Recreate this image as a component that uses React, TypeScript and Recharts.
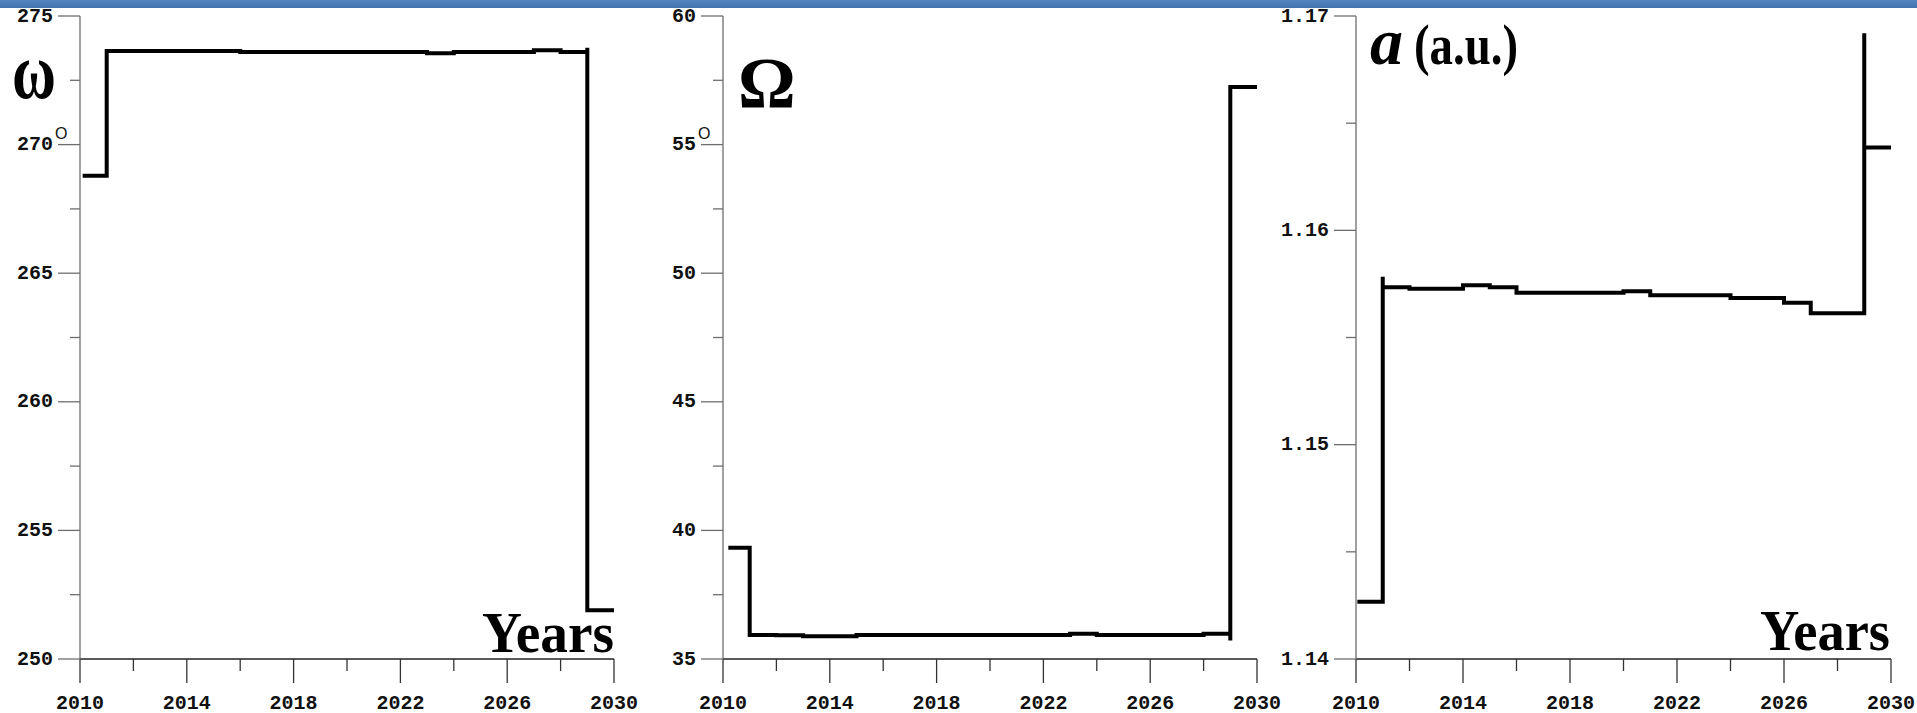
import React from 'react';
import { Line, LineChart, XAxis, YAxis } from 'recharts';

// shared x axis
const yearTicks = [2010, 2012, 2014, 2016, 2018, 2020, 2022, 2024, 2026, 2028, 2030];
const yearLabels = [2010, 2014, 2018, 2022, 2026, 2030];

// ω (argument of perihelion), degrees
const omegaYears = [2010.1, 2011, 2016, 2023, 2024, 2027, 2028, 2029, 2029, 2030];
const omegaValues = [268.79, 273.64, 273.6, 273.55, 273.6, 273.67, 273.6, 273.77, 251.9, 251.9];
const omegaTicks = [250, 252.5, 255, 257.5, 260, 262.5, 265, 267.5, 270, 272.5, 275];
const omegaLabels = [250, 255, 260, 265, 270, 275];

// Ω (longitude of node), degrees
const nodeYears = [2010.2, 2011, 2012, 2013, 2015, 2023, 2024, 2028, 2029, 2029, 2030];
const nodeValues = [39.33, 35.93, 35.92, 35.88, 35.93, 35.98, 35.93, 35.98, 35.72, 57.24, 57.24];
const nodeTicks = [35, 37.5, 40, 42.5, 45, 47.5, 50, 52.5, 55, 57.5, 60];
const nodeLabels = [35, 40, 45, 50, 55, 60];

// a (semi-major axis), a.u.
const axisYears = [2010.05, 2011, 2011, 2012, 2014, 2015, 2016, 2020, 2021, 2024, 2026, 2027, 2029, 2029, 2030];
const axisValues = [1.14267, 1.15784, 1.15734, 1.15728, 1.15744, 1.15734, 1.15709, 1.15716, 1.15697, 1.15684, 1.15662, 1.15613, 1.16919, 1.16387, 1.16387];
const aTicks = [1.14, 1.145, 1.15, 1.155, 1.16, 1.165, 1.17];
const aLabels = [1.14, 1.15, 1.16, 1.17];

const toRows = (years, values) => years.map((year, i) => ({ year, v: values[i] }));

const monoFont = '"Liberation Mono", "DejaVu Sans Mono", monospace';
const serifFont = '"Liberation Serif", "DejaVu Serif", serif';

const renderXTick = props => {
  const { x, y, payload } = props;
  const major = yearLabels.includes(payload.value);
  return (
    <g>
      <line x1={x} y1={y} x2={x} y2={y + (major ? 24 : 12)} stroke="#333" strokeWidth={1.3} />
      {major && (
        <text
          x={x}
          y={y + 44}
          textAnchor="middle"
          dominantBaseline="central"
          fontFamily={monoFont}
          fontWeight="bold"
          fontSize={20}
          fill="#111"
        >
          {payload.value}
        </text>
      )}
    </g>
  );
};

const makeYTick = (labels, fmt, degree) => props => {
  const { x, y, payload } = props;
  const v = payload.value;
  const major = labels.includes(v);
  return (
    <g>
      <line x1={x - (major ? 22 : 10)} y1={y} x2={x} y2={y} stroke="#6e6e6e" strokeWidth={1.3} />
      {major && (
        <text
          x={x - 27}
          y={y}
          textAnchor="end"
          dominantBaseline="central"
          fontFamily={monoFont}
          fontWeight="bold"
          fontSize={20}
          fill="#111"
        >
          {fmt(v)}
        </text>
      )}
      {v === degree && (
        <text x={x - 25} y={y - 6} fontFamily='"Liberation Sans", Arial, sans-serif' fontSize={16} fill="#111">
          O
        </text>
      )}
    </g>
  );
};

const Panel = ({ left, width, marginLeft, marginRight, data, domain, ticks, tick }) => (
  <div style={{ position: 'absolute', left, top: 0, width, height: 713 }}>
    <LineChart
      width={width}
      height={713}
      data={data}
      margin={{ top: 16, right: marginRight, bottom: 0, left: marginLeft }}
    >
      <XAxis
        dataKey="year"
        type="number"
        domain={[2010, 2030]}
        ticks={yearTicks}
        interval={0}
        height={54}
        tickSize={0}
        tickMargin={0}
        tick={renderXTick}
        axisLine={{ stroke: '#222', strokeWidth: 1.3 }}
      />
      <YAxis
        type="number"
        domain={domain}
        ticks={ticks}
        interval={0}
        width={70}
        tickSize={0}
        tickMargin={0}
        tick={tick}
        axisLine={{ stroke: '#6e6e6e', strokeWidth: 1.3 }}
      />
      <Line
        type="stepAfter"
        dataKey="v"
        stroke="#000"
        strokeWidth={4}
        dot={false}
        isAnimationActive={false}
      />
    </LineChart>
  </div>
);

const App = () => {
  return (
    <div
      style={{
        position: 'absolute',
        left: 0,
        top: 0,
        width: 1917,
        height: 713,
        background: '#fff',
        overflow: 'hidden',
      }}
    >
      <Panel
        left={0}
        width={640}
        marginLeft={10}
        marginRight={26}
        data={toRows(omegaYears, omegaValues)}
        domain={[250, 275]}
        ticks={omegaTicks}
        tick={makeYTick(omegaLabels, v => String(v), 270)}
      />
      <Panel
        left={640}
        width={665}
        marginLeft={13}
        marginRight={48}
        data={toRows(nodeYears, nodeValues)}
        domain={[35, 60]}
        ticks={nodeTicks}
        tick={makeYTick(nodeLabels, v => String(v), 55)}
      />
      <Panel
        left={1280}
        width={637}
        marginLeft={6}
        marginRight={26}
        data={toRows(axisYears, axisValues)}
        domain={[1.14, 1.17]}
        ticks={aTicks}
        tick={makeYTick(aLabels, v => v.toFixed(2), null)}
      />

      {/* panel titles */}
      <svg
        width={1917}
        height={713}
        style={{ position: 'absolute', left: 0, top: 0, pointerEvents: 'none' }}
      >
        <text x={12} y={98} fontFamily={serifFont} fontWeight="bold" fontSize={80} textLength={44} lengthAdjust="spacingAndGlyphs" fill="#000">
          ω
        </text>
        <text x={482} y={652} fontFamily={serifFont} fontWeight="bold" fontSize={56} textLength={132} lengthAdjust="spacingAndGlyphs" fill="#000">
          Years
        </text>
        <text x={738} y={107} fontFamily={serifFont} fontWeight="bold" fontSize={72} fill="#000">
          Ω
        </text>
        <text x={1370} y={64} fontFamily={serifFont} fontWeight="bold" fontStyle="italic" fontSize={66} fill="#000">
          a
        </text>
        <text x={1414} y={64} fontFamily={serifFont} fontWeight="bold" fontSize={56} textLength={104} lengthAdjust="spacingAndGlyphs" fill="#000">
          (a.u.)
        </text>
        <text x={1760} y={650} fontFamily={serifFont} fontWeight="bold" fontSize={56} textLength={130} lengthAdjust="spacingAndGlyphs" fill="#000">
          Years
        </text>
      </svg>

      {/* blue strip along the top edge */}
      <div
        style={{
          position: 'absolute',
          left: 0,
          top: 0,
          width: 1917,
          height: 8,
          background: 'linear-gradient(#5585c1, #4372ad)',
        }}
      />
    </div>
  );
};

export default App;
